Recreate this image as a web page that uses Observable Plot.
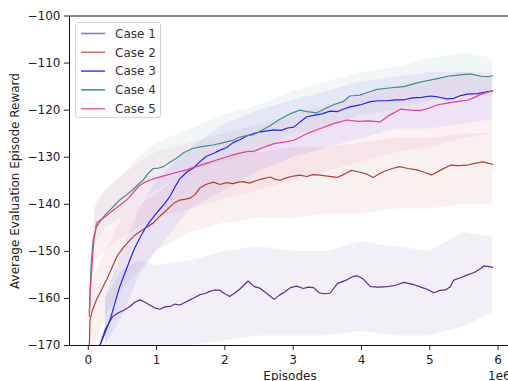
<!DOCTYPE html>
<html>
<head>
<meta charset="utf-8">
<script src="https://cdn.jsdelivr.net/npm/d3@7"></script>
<script src="https://cdn.jsdelivr.net/npm/@observablehq/plot@0.6"></script>
<style>
  html, body { margin: 0; padding: 0; overflow: hidden; background: #fff; }
  #wrap { position: relative; width: 508px; height: 381px; font-family: "DejaVu Sans", sans-serif; }
  .lbl { position: absolute; font-size: 12px; color: #222; white-space: nowrap; line-height: 1; }
</style>
</head>
<body>
<div id="wrap"></div>
<script>
// ---- data (x in units of 1e6 episodes) ----
const caseNames = ["Case 1", "Case 2", "Case 3", "Case 4", "Case 5"];
const lineColors = ["#5e2d91", "#b23f36", "#2323f5", "#3e8f88", "#e6408c"];
const legendColors = ["#9a72c6", "#cd6d68", "#4a4af5", "#47958f", "#ec65a6"];
const xTicks = [0, 1, 2, 3, 4, 5, 6];
const yTicks = [-170, -160, -150, -140, -130, -120, -110, -100];
const xDomain = [-0.275, 6.211];
const yDomain = [-170, -100];

const case1X = [0.17,0.25,0.36,0.45,0.52,0.61,0.68,0.76,0.83,0.90,0.97,1.05,1.12,1.2,1.27,1.34,1.42,1.49,1.56,1.63,1.70,1.78,1.85,1.93,2.0,2.07,2.15,2.22,2.34,2.43,2.51,2.6,2.66,2.72,2.8,2.88,2.96,3.05,3.15,3.22,3.30,3.38,3.45,3.54,3.65,3.78,3.88,3.94,4.02,4.13,4.25,4.38,4.5,4.62,4.75,4.87,4.97,5.06,5.15,5.23,5.3,5.35,5.45,5.55,5.65,5.72,5.79,5.85,5.92];
const case1Y = [-170,-166.5,-163.8,-163,-162.5,-161.7,-160.8,-160.3,-160.8,-161.4,-162,-162.3,-161.8,-161.7,-161.2,-161.4,-160.8,-160.3,-159.8,-159.2,-159,-158.5,-158.2,-158.3,-159,-159.6,-158.8,-158,-156.3,-157.5,-157.8,-158.8,-159.5,-160.2,-159.3,-158.6,-157.7,-157.4,-157.9,-157.6,-157.7,-158.8,-159,-158.9,-156.8,-156.1,-155.3,-155.2,-155.8,-157.5,-157.6,-157.5,-157.2,-156.6,-157,-157.6,-158.1,-158.8,-158.3,-158.2,-157.5,-156.1,-155.6,-155,-154.5,-153.9,-153.1,-153.2,-153.4];

const case2X = [0.015,0.025,0.06,0.12,0.2,0.27,0.35,0.42,0.51,0.61,0.68,0.76,0.86,0.95,1.05,1.15,1.25,1.34,1.42,1.49,1.56,1.63,1.72,1.83,1.93,2.02,2.12,2.2,2.27,2.36,2.45,2.55,2.66,2.74,2.81,2.9,3.0,3.1,3.2,3.29,3.39,3.5,3.64,3.75,3.85,3.98,4.08,4.17,4.25,4.32,4.45,4.56,4.68,4.81,4.92,5.03,5.15,5.3,5.42,5.54,5.66,5.78,5.86,5.92];
const case2Y = [-170,-164.6,-162.5,-160.3,-158,-156,-153.4,-151.1,-149.2,-147.6,-146.6,-145.8,-144.8,-144,-142.5,-141.2,-139.8,-139.1,-138.9,-138.7,-138,-136.6,-135.8,-135.3,-135.8,-135.4,-135.6,-135.3,-135.2,-135.5,-135,-134.6,-134.2,-134.7,-134.9,-134.4,-134,-133.8,-134.1,-133.7,-133.8,-134,-134.3,-133.6,-132.8,-133.2,-133.6,-134.3,-133.6,-133.1,-132.4,-132,-132.4,-132.7,-133.2,-133.8,-132.8,-131.7,-131.8,-131.7,-131.3,-131,-131.3,-131.5];

const case3X = [0.17,0.24,0.32,0.39,0.46,0.54,0.61,0.68,0.76,0.83,0.9,0.97,1.05,1.12,1.2,1.27,1.34,1.44,1.54,1.63,1.73,1.83,1.93,2.02,2.12,2.22,2.32,2.42,2.52,2.62,2.72,2.82,2.92,3.01,3.1,3.2,3.3,3.42,3.54,3.65,3.75,3.83,3.98,4.13,4.25,4.38,4.5,4.62,4.75,4.88,5.01,5.12,5.25,5.35,5.45,5.55,5.69,5.8,5.92];
const case3Y = [-170,-167.5,-164.5,-161,-157.5,-154.5,-151.8,-149.3,-147,-145.2,-143.7,-142.4,-141,-139.8,-138.2,-136.3,-134.6,-133.2,-132.3,-131,-129.8,-129.2,-128.5,-128,-126.9,-126.3,-125.5,-125,-124.6,-124.4,-124.2,-124.3,-123.8,-123.6,-122.5,-121.4,-121.1,-120.8,-120.2,-120.3,-119.7,-119.3,-118.9,-118.2,-118,-118,-117.8,-117.8,-117.4,-117.3,-117,-117.2,-117.6,-117.5,-116.9,-116.6,-116.5,-116.2,-115.9];

const case4X = [0.015,0.04,0.07,0.12,0.17,0.25,0.32,0.4,0.46,0.56,0.66,0.73,0.8,0.88,0.95,1.03,1.1,1.2,1.29,1.4,1.54,1.68,1.83,1.98,2.12,2.22,2.32,2.42,2.55,2.66,2.8,2.95,3.1,3.2,3.34,3.48,3.6,3.73,3.83,3.98,4.1,4.23,4.4,4.62,4.81,4.95,5.11,5.3,5.45,5.59,5.75,5.85,5.92];
const case4Y = [-163.8,-153,-147.6,-144.8,-143.7,-142.2,-141.2,-140,-139.1,-138,-136.8,-135.8,-134.9,-133.4,-132.4,-132.3,-132,-131,-130.2,-129,-128.1,-127.7,-127.4,-126.9,-126.4,-125.7,-125.4,-125.2,-124.2,-123.3,-122,-120.8,-120,-120.3,-120.6,-119.6,-118.8,-118.2,-117,-116.8,-116.2,-115.6,-115.3,-115,-114.2,-113.8,-113.3,-112.7,-112.5,-112.3,-112.8,-112.9,-112.7];

const case5X = [0.015,0.03,0.05,0.08,0.12,0.17,0.22,0.3,0.37,0.46,0.56,0.66,0.75,0.83,0.9,1.0,1.15,1.3,1.44,1.58,1.73,1.88,2.03,2.17,2.32,2.43,2.55,2.72,2.87,3.01,3.2,3.4,3.6,3.79,3.95,4.1,4.27,4.42,4.57,4.72,4.86,4.98,5.11,5.3,5.44,5.55,5.64,5.75,5.92];
const case5Y = [-163,-158,-154,-148,-144,-143.4,-143,-142,-141.2,-140.2,-139.1,-137.5,-136,-135.3,-134.9,-134.4,-133.8,-133.2,-132.7,-132,-131.3,-130.6,-129.9,-129.3,-128.8,-128.7,-128,-127.1,-126.8,-126.4,-125,-123.9,-122.8,-122.1,-122.4,-122.3,-122.5,-121,-119.8,-120,-120.1,-119.6,-118.9,-118.4,-118.1,-117.9,-117.4,-116.6,-115.9];

// spread of the raw (unsmoothed) evaluations, read as low/high envelopes
const bandX = [0.02,0.1,0.25,0.5,0.75,1,1.5,2,2.5,3,3.5,4,4.5,5,5.5,5.92];
const case1Low  = [null,null,-170,-170,-170,-170,-170,-169,-168,-168,-168,-167,-168,-168,-166,-163];
const case1High = [null,null,-160,-154,-152,-153,-152,-150,-149,-150,-150,-148,-149,-150,-146,-147];
const case2Low  = [-170,-170,-164,-158,-154,-150,-146,-144,-143,-143,-142,-142,-141,-141,-140,-140];
const case2High = [-160,-155,-150,-143,-140,-138,-132,-130,-129,-128,-128,-127,-126,-126,-125,-125];
const case3Low  = [null,null,-170,-164,-155,-150,-141,-137,-133,-130,-128,-126,-124,-124,-123,-122];
const case3High = [null,null,-160,-150,-141,-135,-128,-123,-120,-118,-116,-114,-113,-112,-112,-113];
const case4Low  = [-166,-149,-145,-143,-140,-137,-133,-131,-129,-125,-124,-121,-120,-118,-117,-117];
const case4High = [-160,-141,-137,-134,-130,-127,-124,-121,-119,-116,-114,-112,-111,-109,-108,-109];
const case5Low  = [-166,-152,-150,-147,-145,-143,-141,-139,-137,-135,-133,-131,-129,-128,-126,-125];
const case5High = [-160,-140,-137,-134,-131,-129,-127,-125,-123,-121,-119,-117,-115,-114,-112,-112];

// ---- build tables ----
const xs = [case1X, case2X, case3X, case4X, case5X];
const ys = [case1Y, case2Y, case3Y, case4Y, case5Y];
const lows = [case1Low, case2Low, case3Low, case4Low, case5Low];
const highs = [case1High, case2High, case3High, case4High, case5High];

const lineData = caseNames.flatMap((name, i) => xs[i].map((x, j) => ({name, x, y: ys[i][j]})));
const bandData = caseNames.map((name, i) => bandX.map((x, j) => ({name, x, lo: lows[i][j], hi: highs[i][j]})));

const marks = [];
bandData.forEach((bd, i) => {
  marks.push(Plot.areaY(bd, {x: "x", y1: "lo", y2: "hi", fill: lineColors[i], fillOpacity: 0.075, curve: "linear", clip: true}));
});
caseNames.forEach((name, i) => {
  marks.push(Plot.line(lineData.filter(d => d.name === name), {x: "x", y: "y", stroke: lineColors[i], strokeWidth: 1.2, clip: true}));
});
marks.push(Plot.axisX(xTicks, {tickSize: 5, tickPadding: 5, fontSize: 12, tickFormat: d => String(d), label: null, stroke: "#222", color: "#222"}));
marks.push(Plot.axisY(yTicks, {tickSize: 5, tickPadding: 4, fontSize: 12, label: null, stroke: "#222", color: "#222"}));
marks.push(Plot.frame({stroke: "#111", strokeWidth: 1}));

const chart = Plot.plot({
  width: 508,
  height: 381,
  marginLeft: 69,
  marginTop: 15.5,
  marginBottom: 36,
  marginRight: -4,
  x: {domain: xDomain},
  y: {domain: yDomain},
  style: {fontFamily: "DejaVu Sans, sans-serif", fontSize: "12px", background: "#fff", overflow: "visible"},
  marks
});
const wrap = document.getElementById("wrap");
wrap.appendChild(chart);

// axis labels and offset text
function addLabel(text, css) {
  const d = document.createElement("div");
  d.className = "lbl";
  d.textContent = text;
  Object.assign(d.style, css);
  wrap.appendChild(d);
  return d;
}
addLabel("Episodes", {left: "290px", top: "370px", transform: "translateX(-50%)"});
addLabel("1e6", {left: "488px", top: "370px"});
addLabel("Average Evaluation Episode Reward", {left: "15px", top: "181px", transform: "translate(-50%, -50%) rotate(-90deg)"});

// legend
const leg = document.createElement("div");
Object.assign(leg.style, {position: "absolute", left: "75px", top: "22px", width: "86px", height: "96px",
  border: "1px solid #d4d4d4", borderRadius: "3px", background: "rgba(255,255,255,0.85)", boxSizing: "border-box"});
wrap.appendChild(leg);
const lsvg = d3.select(leg).append("svg").attr("width", 86).attr("height", 96).style("display", "block");
caseNames.forEach((name, i) => {
  const cy = 10.5 + i * 18.8;
  lsvg.append("line").attr("x1", 5).attr("x2", 29).attr("y1", cy).attr("y2", cy)
    .attr("stroke", legendColors[i]).attr("stroke-width", 1.6);
  lsvg.append("text").attr("x", 39).attr("y", cy).attr("dy", "0.35em")
    .attr("font-family", "DejaVu Sans, sans-serif").attr("font-size", 12).attr("fill", "#333").text(name);
});
</script>
</body>
</html>
